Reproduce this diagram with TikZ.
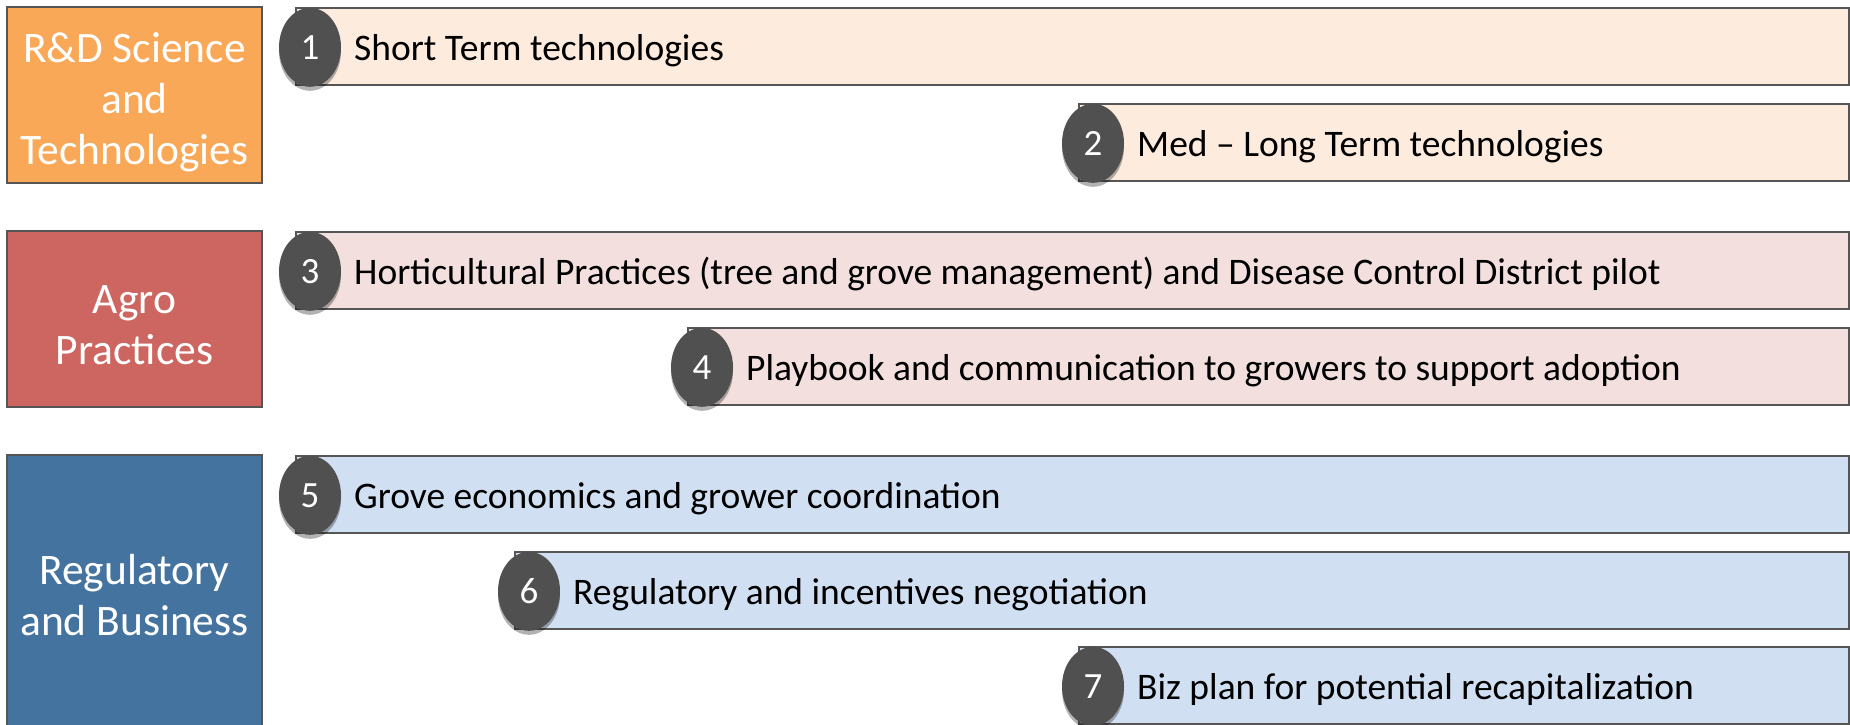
\documentclass[tikz,border=0pt]{standalone}
\usepackage{fontspec}
\setmainfont{Carlito}
\usetikzlibrary{positioning, shapes.geometric, shadows}
\usepackage{xcolor}
\definecolor{catorange}{RGB}{249,168,87}
\definecolor{catred}{RGB}{205,102,96}
\definecolor{catblue}{RGB}{69,115,160}
\definecolor{barorange}{RGB}{253,235,222}
\definecolor{barred}{RGB}{242,223,222}
\definecolor{barblue}{RGB}{208,224,242}
\definecolor{edgegray}{RGB}{85,85,85}
\definecolor{badgegray}{RGB}{80,80,80}
\def\barright{1848}

\begin{document}
\begin{tikzpicture}[x=1pt,y=-1pt]
    \tikzstyle{category}=[draw=edgegray, line width=2pt, rectangle, minimum width=255pt, inner sep=0pt]
    \tikzstyle{cattext}=[inner sep=0pt, text=white, align=center, font=\fontsize{43.5}{51}\selectfont]
    \tikzstyle{bar}=[draw=edgegray, line width=1.6pt, rectangle, minimum height=77pt, inner sep=0pt, anchor=north west]
    \tikzstyle{badge}=[ellipse, fill=badgegray, minimum width=62pt, minimum height=79pt, inner sep=0pt, text=white, font=\fontsize{37}{44}\selectfont, drop shadow={shadow xshift=0pt, shadow yshift=-4pt, opacity=0.3, fill=black}]
    \tikzstyle{bartext}=[anchor=west, inner sep=0pt, font=\fontsize{37.5}{44}\selectfont]

    \useasboundingbox (0,0) rectangle (1850,724);
    \clip (0,0) rectangle (1850,724);

    \node[category, fill=catorange, minimum height=176pt] (C-1) at (134.5,95) {};
    \node[category, fill=catred, minimum height=176pt] (C-2) at (134.5,319) {};
    \node[category, fill=catblue, minimum height=276pt] (C-3) at (134.5,593) {};
    \node[cattext] (L-1) at ([yshift=-7pt]C-1.center) {R\&D Science\\and\\Technologies};
    \node[cattext] (L-2) at ([yshift=-6pt]C-2.center) {Agro\\Practices};
    \node[cattext] (L-3) at ([yshift=-2pt]C-3.center) {Regulatory\\and Business};

	\foreach \n/\x/\y/\c/\t in {1/295/7/barorange/{Short Term technologies},
		2/1078/103/barorange/{Med -- Long Term technologies},
		3/295/231/barred/{Horticultural Practices (tree and grove management) and Disease Control District pilot},
		4/687/327/barred/{Playbook and communication to growers to support adoption},
		5/295/455/barblue/{Grove economics and grower coordination},
		6/514/551/barblue/{Regulatory and incentives negotiation},
		7/1078/646/barblue/{Biz plan for potential recapitalization}}{
		\pgfmathsetmacro\w{\barright-\x}
		\node[bar, fill=\c, minimum width=\w pt] (B-\n) at (\x,\y) {};
		\node[badge] (N-\n) at ([xshift=15pt, yshift=-1pt]B-\n.west) {\n};
		\node[bartext] (T-\n) at ([xshift=59pt, yshift=-4pt]B-\n.west) {\t};
	}
\end{tikzpicture}
\end{document}
